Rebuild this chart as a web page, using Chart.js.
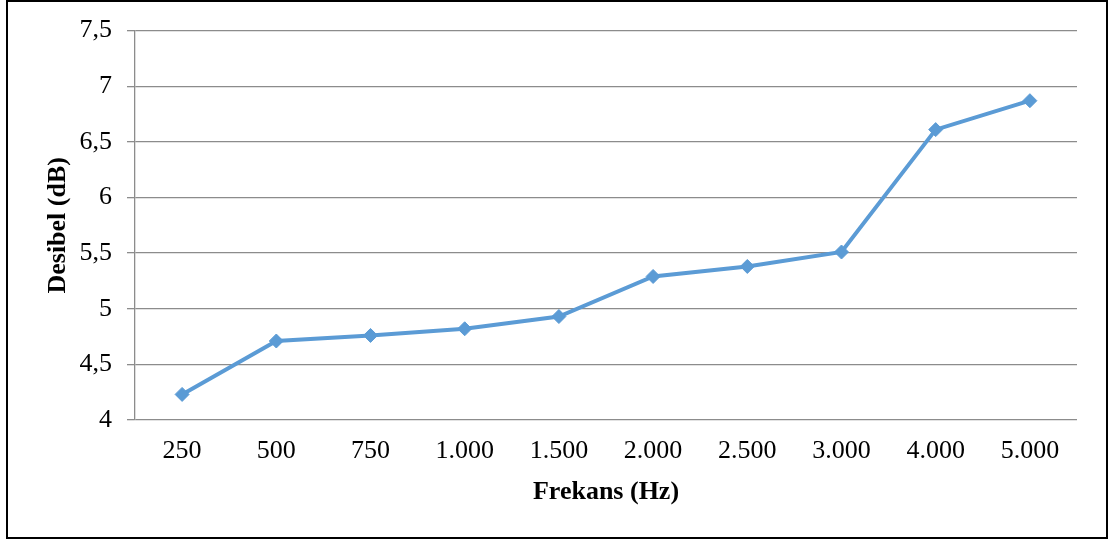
<!DOCTYPE html>
<html>
<head>
<meta charset="utf-8">
<script src="https://cdn.jsdelivr.net/npm/chart.js@4/dist/chart.umd.min.js"></script>
<style>
  html, body { margin: 0; padding: 0; background: #fff; }
  #wrap { position: relative; width: 1112px; height: 540px; }
  #frame { position: absolute; left: 6px; top: 0; width: 1098px; height: 535px; border: 2px solid #000; box-sizing: content-box; pointer-events: none; }
  canvas { position: absolute; left: 0; top: 0; }
</style>
</head>
<body>
<div id="wrap">
  <canvas id="chart" width="1112" height="540"></canvas>
  <div id="frame"></div>
</div>
<script>
// frequency categories and measured decibel values
let frequencies = ["250", "500", "750", "1.000", "1.500", "2.000", "2.500", "3.000", "4.000", "5.000"];
let decibels = [4.23, 4.71, 4.76, 4.82, 4.93, 5.29, 5.38, 5.51, 6.61, 6.87];
let yTicks = [4, 4.5, 5, 5.5, 6, 6.5, 7, 7.5];

let xTitle = "Frekans (Hz)";
let yTitle = "Desibel (dB)";

const serif = "'Liberation Serif', 'Times New Roman', serif";
const gridColor = "#8c8c8c";

let ctx = document.getElementById('chart').getContext('2d');
let chartInstance = new Chart(ctx, {
    type: 'line',
    data: {
        labels: frequencies,
        datasets: [{
            data: decibels,
            borderColor: '#5B9BD5',
            backgroundColor: '#5B9BD5',
            borderWidth: 4,
            pointStyle: 'rectRot',
            pointRadius: 7,
            pointBorderWidth: 1,
            pointBorderColor: '#5B9BD5',
            tension: 0
        }]
    },
    options: {
        responsive: false,
        animation: false,
        layout: { padding: { left: 0, top: 30, right: 35, bottom: 20 } },
        plugins: { legend: { display: false }, tooltip: { enabled: false } },
        scales: {
            x: {
                offset: true,
                grid: { display: false, drawTicks: false },
                border: { display: false },
                ticks: {
                    color: '#000',
                    font: { family: serif, size: 26 },
                    padding: 16,
                    maxRotation: 0,
                    autoSkip: false
                },
                title: {
                    display: true,
                    text: xTitle,
                    color: '#000',
                    font: { family: serif, size: 26, weight: 'bold' },
                    padding: { top: 0, bottom: 12 }
                },
                afterFit: scale => { scale.height = 100; }
            },
            y: {
                min: 4,
                max: 7.5,
                afterBuildTicks: scale => { scale.ticks = yTicks.map(v => ({ value: v })); },
                grid: { color: gridColor, lineWidth: 1.3, tickLength: 8 },
                border: { display: true, color: gridColor, width: 1.3 },
                ticks: {
                    color: '#000',
                    font: { family: serif, size: 26 },
                    padding: 15,
                    callback: v => String(v).replace('.', ',')
                },
                title: {
                    display: true,
                    text: yTitle,
                    color: '#000',
                    font: { family: serif, size: 26, weight: 'bold' },
                    padding: { top: 43, bottom: 0 }
                },
                afterFit: scale => { scale.width = 135; }
            }
        }
    }
});
</script>
</body>
</html>
